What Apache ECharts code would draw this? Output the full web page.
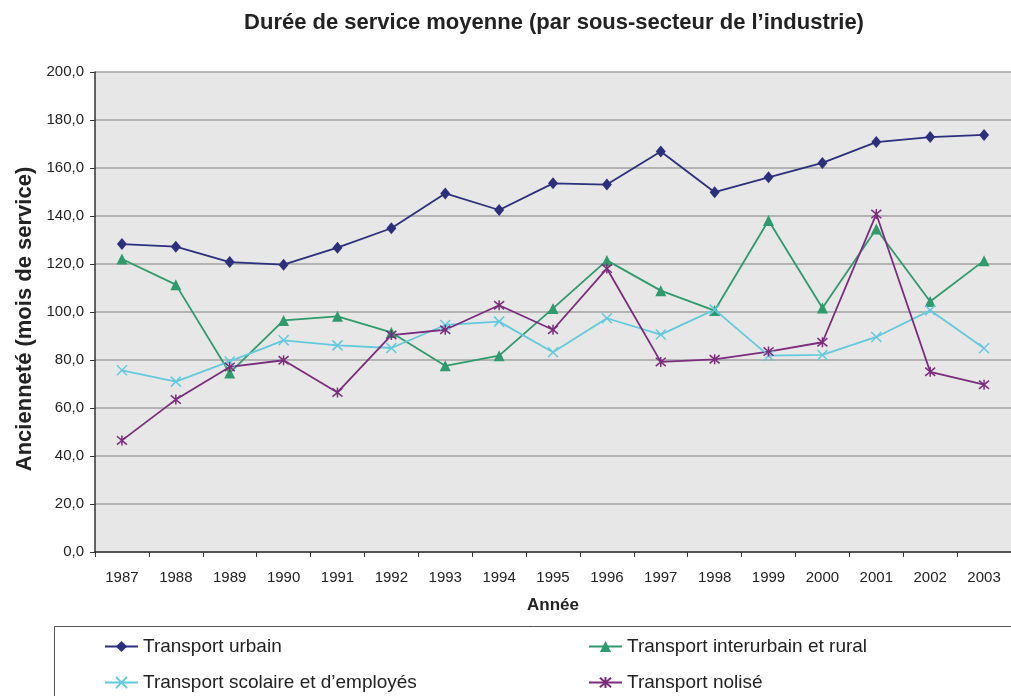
<!DOCTYPE html>
<html>
<head>
<meta charset="utf-8">
<script src="https://cdn.jsdelivr.net/npm/echarts@6/dist/echarts.min.js"></script>
<style>
  html, body { margin: 0; padding: 0; background: #fff; }
  #chart { width: 1011px; height: 696px; }
</style>
</head>
<body>
<div id="chart"></div>
<script>
// données
var annees = ['1987', '1988', '1989', '1990', '1991', '1992', '1993', '1994', '1995',
    '1996', '1997', '1998', '1999', '2000', '2001', '2002', '2003'];
var urbain = [128.3, 127.2, 120.8, 119.7, 126.8, 134.9, 149.4, 142.5, 153.6,
    153.1, 166.9, 149.9, 156.1, 162.1, 170.8, 172.9, 173.8];
var interurbain = [122.1, 111.4, 74.6, 96.5, 98.2, 91.5, 77.6, 81.8, 101.5,
    121.5, 108.9, 100.6, 138.1, 101.7, 134.6, 104.4, 121.4];
var scolaire = [75.7, 71.0, 79.4, 88.2, 86.1, 85.0, 94.6, 96.0, 83.2,
    97.4, 90.6, 101.0, 81.8, 82.1, 89.6, 100.7, 84.9];
var nolise = [46.5, 63.5, 77.1, 79.9, 66.5, 90.4, 92.6, 102.8, 92.6,
    118.1, 79.2, 80.3, 83.5, 87.4, 140.8, 75.1, 69.7];

var FONT = 'Liberation Sans, Arial, sans-serif';
var SYMBOL_X = 'path://M0 0L10 10M10 0L0 10';
var SYMBOL_STAR = 'path://M0 0L10 10M10 0L0 10M5 -1L5 11';

function serie(name, data, color, symbol, size) {
    return {
        name: name,
        type: 'line',
        data: data,
        symbol: symbol,
        symbolSize: size,
        showSymbol: true,
        lineStyle: { color: color, width: 1.8 },
        itemStyle: { color: color, borderColor: color, borderWidth: (symbol.indexOf('path') === 0 ? 1.5 : 0) },
        emphasis: { disabled: true }
    };
}

// une légende par entrée, pour garder les deux colonnes
function legende(name, left, top) {
    return {
        left: left,
        top: top,
        padding: 0,
        itemWidth: 33,
        itemHeight: 14,
        data: [name],
        textStyle: { fontFamily: FONT, fontSize: 19, color: '#222' }
    };
}

var chart = echarts.init(document.getElementById('chart'));

var option = {
    backgroundColor: '#ffffff',
    animation: false,
    title: {
        text: 'Durée de service moyenne (par sous-secteur de l’industrie)',
        left: 549,
        top: 7,
        textAlign: 'center',
        textStyle: { fontFamily: FONT, fontSize: 22, fontWeight: 'bold', color: '#222' }
    },
    graphic: [{
        type: 'rect',
        shape: { x: 54.5, y: 626.5, width: 1000, height: 100 },
        style: { fill: 'none', stroke: '#555', lineWidth: 1 }
    }],
    legend: [
        legende('Transport urbain', 104, 637),
        legende('Transport scolaire et d’employés', 104, 673),
        legende('Transport interurbain et rural', 588, 637),
        legende('Transport nolisé', 588, 673)
    ],
    grid: {
        left: 95,
        top: 72,
        width: 922,
        height: 480,
        show: true,
        backgroundColor: '#e7e7e7',
        borderWidth: 0
    },
    xAxis: {
        type: 'category',
        data: annees,
        boundaryGap: true,
        name: 'Année',
        nameLocation: 'middle',
        nameGap: 45,
        nameTextStyle: { fontFamily: FONT, fontSize: 17, fontWeight: 'bold', color: '#222' },
        axisLine: { lineStyle: { color: '#333', width: 1.5 } },
        axisTick: { show: true, length: 5, lineStyle: { color: '#333' } },
        axisLabel: { fontFamily: FONT, fontSize: 15, color: '#222', margin: 18, interval: 0 },
        splitLine: { show: false }
    },
    yAxis: {
        type: 'value',
        min: 0,
        max: 200,
        interval: 20,
        name: 'Ancienneté (mois de service)',
        nameLocation: 'middle',
        nameGap: 59,
        nameTextStyle: {
            fontFamily: FONT, fontSize: 22, fontWeight: 'bold', color: '#222',
            padding: [0, 14, 0, 0]
        },
        axisLine: { show: true, lineStyle: { color: '#333', width: 1.5 } },
        axisTick: { show: true, length: 5, lineStyle: { color: '#333' } },
        axisLabel: {
            fontFamily: FONT, fontSize: 15, color: '#222', margin: 11,
            formatter: function (v) { return v.toFixed(1).replace('.', ','); }
        },
        splitLine: { show: true, lineStyle: { color: '#a2a2a2', width: 1.5 } }
    },
    series: [
        serie('Transport urbain', urbain, '#2b2f7c', 'diamond', [10, 12]),
        serie('Transport interurbain et rural', interurbain, '#2f9a6b', 'triangle', 11),
        serie('Transport scolaire et d’employés', scolaire, '#63c9dd', SYMBOL_X, 10),
        serie('Transport nolisé', nolise, '#7b2c7d', SYMBOL_STAR, 10)
    ]
};

chart.setOption(option);
</script>
</body>
</html>
